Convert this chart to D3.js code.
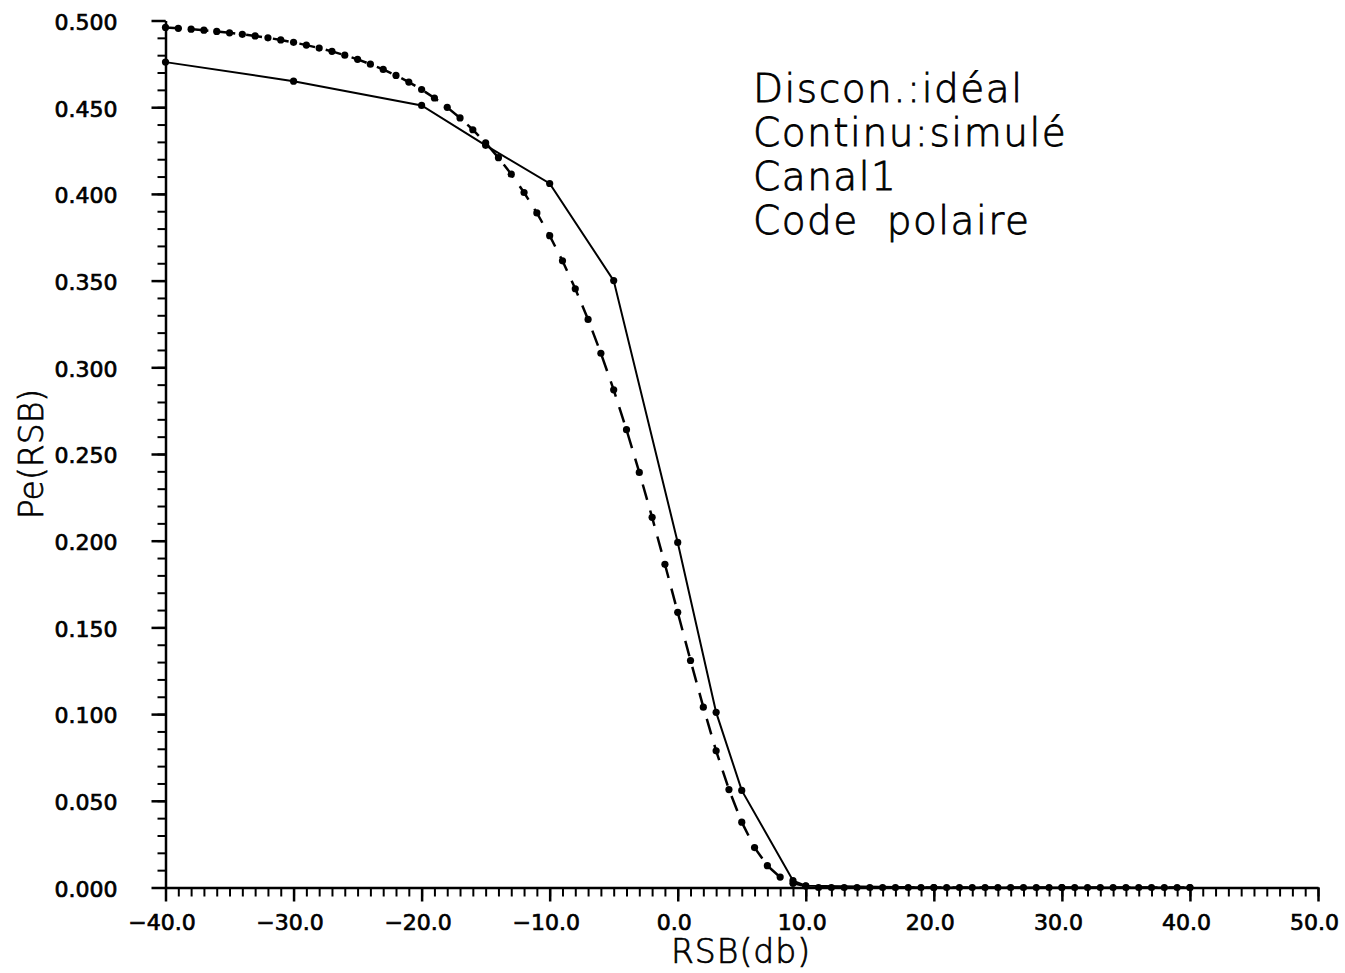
<!DOCTYPE html>
<html>
<head>
<meta charset="utf-8">
<script src="https://cdn.jsdelivr.net/npm/d3@7"></script>
<style>
  body { margin: 0; background: #fff; }
  svg { display: block; }
</style>
</head>
<body>
<div id="chart"></div>
<script>
// Courbe "idéal" (pointillés), un point par dB
const idealRsb = d3.range(-40, 41, 1);
const idealPe = [
  0.496, 0.4955, 0.495, 0.4944, 0.4937, 0.4929, 0.492, 0.4911, 0.490, 0.4888,
  0.4874, 0.4858, 0.4841, 0.4822, 0.480, 0.4776, 0.4748, 0.4718, 0.4683, 0.4645,
  0.4602, 0.4553, 0.4499, 0.4438, 0.437, 0.4294, 0.4209, 0.4114, 0.4008, 0.389,
  0.3759, 0.3614, 0.3453, 0.3276, 0.3081, 0.287, 0.264, 0.2394, 0.2135, 0.1864,
  0.1587, 0.1309, 0.104, 0.0788, 0.0565, 0.0377, 0.023, 0.0126, 0.006, 0.0024,
  0.0008, 0, 0, 0, 0, 0, 0, 0, 0, 0,
  0, 0, 0, 0, 0, 0, 0, 0, 0, 0,
  0, 0, 0, 0, 0, 0, 0, 0, 0, 0,
  0
];

// Courbe "simulé" (trait continu)
const simRsb = [-40, -30, -20, -15, -10, -5, 0, 3, 5, 9, 10, 20, 30, 40];
const simPe = [0.476, 0.465, 0.451, 0.428, 0.406, 0.350, 0.199, 0.101, 0.056, 0.004, 0.001, 0, 0, 0];

const xMajor = d3.range(-40, 51, 10);
const xMinor = d3.range(-40, 51, 1);
const yMajor = d3.range(0, 0.5001, 0.05);
const yMinor = d3.range(0, 0.5001, 0.01);

const legendLines = ["Discon.:idéal", "Continu:simulé", "Canal1", "Code  polaire"];

const width = 1345;
const height = 973;
const font = "'DejaVu Sans', sans-serif";

const x = d3.scaleLinear([-40, 50], [165.5, 1318]);
const y = d3.scaleLinear([0, 0.5], [887.5, 20.5]);

const svg = d3.select("#chart").append("svg")
    .attr("width", width)
    .attr("height", height)
    .attr("viewBox", [0, 0, width, height]);

svg.append("rect").attr("width", width).attr("height", height).attr("fill", "#fff");

// axes: petites graduations d'abord, puis les grandes avec les labels
svg.append("g")
    .attr("transform", `translate(0,${y(0)})`)
    .call(d3.axisBottom(x).tickValues(xMinor).tickSize(9).tickSizeOuter(0).tickFormat(""))
    .call(g => g.select(".domain").remove())
    .call(g => g.selectAll(".tick line").attr("stroke", "#000").attr("stroke-width", 2));

svg.append("g")
    .attr("transform", `translate(0,${y(0)})`)
    .call(d3.axisBottom(x).tickValues(xMajor).tickSize(14).tickSizeOuter(0).tickPadding(13)
      .tickFormat(d3.format(".1f")))
    .call(g => g.select(".domain").attr("stroke", "#000").attr("stroke-width", 2.5))
    .call(g => g.selectAll(".tick line").attr("stroke", "#000").attr("stroke-width", 2.5))
    .call(g => g.selectAll(".tick text")
      .attr("fill", "#000")
      .attr("stroke", "#000")
      .attr("stroke-width", 0.7)
      .attr("dx", -4)
      .style("font", `22px ${font}`));

svg.append("g")
    .attr("transform", `translate(${x(-40)},0)`)
    .call(d3.axisLeft(y).tickValues(yMinor).tickSize(8).tickSizeOuter(0).tickFormat(""))
    .call(g => g.select(".domain").remove())
    .call(g => g.selectAll(".tick line").attr("stroke", "#000").attr("stroke-width", 2));

svg.append("g")
    .attr("transform", `translate(${x(-40)},0)`)
    .call(d3.axisLeft(y).tickValues(yMajor).tickSize(14).tickSizeOuter(0).tickPadding(34)
      .tickFormat(d3.format(".3f")))
    .call(g => g.select(".domain").attr("stroke", "#000").attr("stroke-width", 2.5))
    .call(g => g.selectAll(".tick line").attr("stroke", "#000").attr("stroke-width", 2.5))
    .call(g => g.selectAll(".tick text")
      .attr("fill", "#000")
      .attr("stroke", "#000")
      .attr("stroke-width", 0.7)
      .attr("dy", "0.4em")
      .style("font", `22px ${font}`));

// titres des axes
svg.append("text")
    .attr("x", 741)
    .attr("y", 963)
    .attr("text-anchor", "middle")
    .attr("stroke", "#000")
    .attr("stroke-width", 0.7)
    .style("font", `300 33px ${font}`)
    .style("letter-spacing", "1px")
    .text("RSB(db)");

svg.append("text")
    .attr("transform", "translate(43,454) rotate(-90)")
    .attr("text-anchor", "middle")
    .attr("stroke", "#000")
    .attr("stroke-width", 0.7)
    .style("font", `300 33px ${font}`)
    .text("Pe(RSB)");

// courbes
const line = d3.line()
    .x(d => x(d[0]))
    .y(d => y(d[1]));

const ideal = d3.zip(idealRsb, idealPe);
const sim = d3.zip(simRsb, simPe);

svg.append("path")
    .datum(ideal)
    .attr("fill", "none")
    .attr("stroke", "#000")
    .attr("stroke-width", 2.5)
    .attr("stroke-dasharray", "16,11")
    .attr("d", line);

svg.append("path")
    .datum(sim)
    .attr("fill", "none")
    .attr("stroke", "#000")
    .attr("stroke-width", 2)
    .attr("d", line);

svg.append("g")
  .selectAll("circle")
  .data(ideal.concat(sim))
  .join("circle")
    .attr("cx", d => x(d[0]))
    .attr("cy", d => y(d[1]))
    .attr("r", 3.6)
    .attr("fill", "#000");

// légende en texte
svg.append("g")
  .selectAll("text")
  .data(legendLines)
  .join("text")
    .attr("x", 753)
    .attr("y", (d, i) => 102 + i * 44)
    .attr("xml:space", "preserve")
    .attr("stroke", "#000")
    .attr("stroke-width", 0.8)
    .style("white-space", "pre")
    .style("letter-spacing", "1.5px")
    .style("font", `300 39px ${font}`)
    .text(d => d);
</script>
</body>
</html>
